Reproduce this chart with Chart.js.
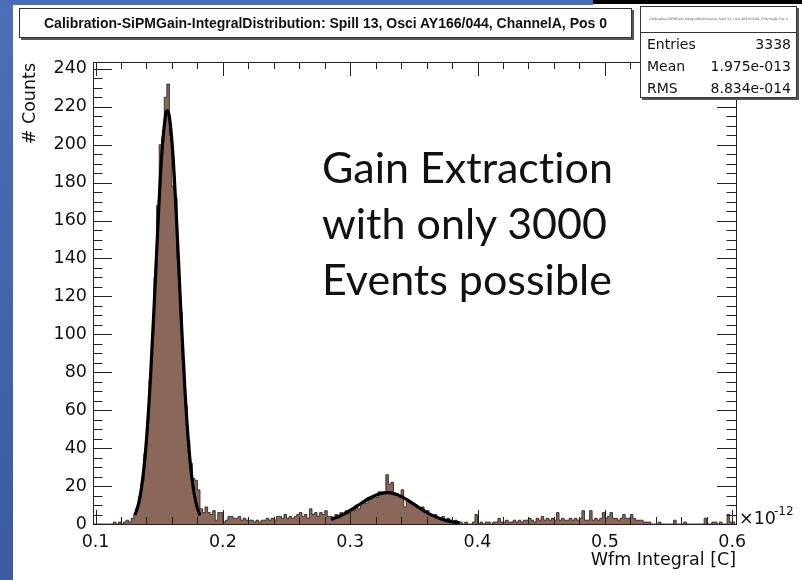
<!DOCTYPE html>
<html>
<head>
<meta charset="utf-8">
<script src="https://cdn.jsdelivr.net/npm/chart.js@4.4.0/dist/chart.umd.min.js"></script>
<style>
  html, body { margin: 0; padding: 0; background: #fff; }
  #wrap { position: relative; width: 802px; height: 580px; overflow: hidden; background: #fff; }
  #side { position: absolute; left: 0; top: 0; width: 13px; height: 580px; background: linear-gradient(#4d6fb8, #3c5a9e); }
  #topBlue { position: absolute; left: 0; top: 0; width: 593px; height: 5px; background: #4b6db6; }
  #topBlack { position: absolute; left: 593px; top: 0; width: 209px; height: 4px; background: #000; }
  #chart { position: absolute; left: 0; top: 0; }
  .box { position: absolute; background: #fff; border: 1px solid #333; box-shadow: 2px 2px 0 #555; box-sizing: border-box; }
  #titleBox { left: 19px; top: 8px; width: 613px; height: 30px; font: bold 14px "Liberation Sans", Arial, sans-serif;
              text-align: center; line-height: 28px; color: #111; white-space: nowrap; }
  #stats { left: 640px; top: 6px; width: 157px; height: 92px; font: 14px "DejaVu Sans", sans-serif; color: #111; }
  #statName { height: 25px; border-bottom: 1px solid #333; font-size: 3.3px; line-height: 25px; text-align: center; color: #555; white-space: nowrap; overflow: hidden; }
  .row { display: flex; justify-content: space-between; padding: 0 5px 0 6px; height: 22px; line-height: 22px; }
  #note { position: absolute; left: 322px; top: 139px; font: 43px Lato, "Open Sans", sans-serif; line-height: 56px; color: #111;
          font-variant-ligatures: none; white-space: nowrap; }
</style>
</head>
<body>
<div id="wrap">
  <canvas id="chart" width="802" height="580"></canvas>
  <div id="side"></div>
  <div id="topBlue"></div>
  <div id="topBlack"></div>
  <div class="box" id="titleBox">Calibration-SiPMGain-IntegralDistribution: Spill 13, Osci AY166/044, ChannelA, Pos 0</div>
  <div class="box" id="stats">
    <div id="statName">Calibration-SiPMGain-IntegralDistribution: Spill 13, Osci AY166/044, ChannelA, Pos 0</div>
    <div class="row"><span>Entries</span><span>3338</span></div>
    <div class="row"><span>Mean</span><span>1.975e-013</span></div>
    <div class="row"><span>RMS</span><span>8.834e-014</span></div>
  </div>
  <div id="note">Gain Extraction<br>with only 3000<br>Events possible</div>
</div>
<script>
// histogram: 252 bins of width 0.002 (x10^-12 C) starting at 0.098
const binLow = 0.098;
const binWidth = 0.002;
const binCounts = [
  0, 0, 0, 0, 0, 0, 0, 0,
  1, 0, 1, 0, 1, 2, 1, 3,
  5, 9, 14, 23, 37, 54, 76, 100,
  130, 168, 200, 204, 225, 232, 205, 178,
  172, 140, 112, 86, 62, 44, 32, 24, 23, 18,
  8, 6, 9, 6, 5, 7, 2, 6, 6, 1,
  2, 4, 4, 3, 3, 4, 2, 3, 2, 2,
  2, 1, 2, 1, 2, 2, 3, 2, 3, 2,
  4, 4, 3, 5, 3, 4, 3, 4, 5, 6,
  4, 5, 3, 8, 5, 6, 4, 6, 5, 7, 4,
  4, 3, 5, 3, 6, 5, 7, 6, 8, 7,
  10, 8, 11, 12, 11, 14, 13, 15, 14, 17,
  16, 17, 26, 21, 22, 15, 16, 14, 18, 9,
  13, 12, 11, 10, 9, 8, 9, 6, 7, 5,
  4, 5, 3, 3, 4, 2, 3, 2, 1, 2, 1, 1,
  0, 1, 0, 0, 1, 5, 0, 1, 0, 1,
  1, 0, 1, 1, 3, 1, 1, 2, 1, 1,
  2, 1, 2, 1, 2, 2, 3, 2, 1, 3,
  2, 4, 2, 3, 2, 3, 2, 6, 2, 3,
  2, 2, 3, 2, 3, 2, 3, 7, 2, 2,
  7, 2, 3, 2, 3, 6, 3, 4, 6, 3,
  3, 2, 3, 5, 3, 3, 5, 3, 2, 2,
  2, 1, 1, 1, 0, 0, 0, 1, 0, 0,
  0, 0, 0, 2, 0, 0, 0, 1, 0, 0,
  0, 0, 0, 0, 0, 3, 0, 0, 1, 1,
  0, 1, 0, 0, 5, 1, 1
];

// gaussian fits
const fit1X = [0.131, 0.134, 0.137, 0.140, 0.143, 0.146, 0.149, 0.152, 0.155, 0.1564, 0.158, 0.161, 0.164, 0.167, 0.170, 0.173, 0.176, 0.179, 0.182];
const fit1Y = [4.8, 11.3, 23.6, 44.5, 75.4, 115, 157.8, 194.5, 215.5, 218, 214.7, 192.4, 155, 112.2, 73.1, 42.8, 22.5, 10.7, 4.5];
const fit2X = [0.285, 0.295, 0.305, 0.315, 0.325, 0.329, 0.335, 0.345, 0.355, 0.365, 0.375, 0.386];
const fit2Y = [2.4, 5.2, 9.3, 13.6, 16.3, 16.5, 15.9, 12.6, 8.2, 4.4, 1.9, 0.6];

const xTickValues = [0.1, 0.2, 0.3, 0.4, 0.5, 0.6];
const xTickLabels = ['0.1', '0.2', '0.3', '0.4', '0.5', '0.6'];
const yTickValues = [0, 20, 40, 60, 80, 100, 120, 140, 160, 180, 200, 220, 240];

const xMin = 0.098, xMax = 0.603, yMax = 243.6;

const histPoints = binCounts.map((c, i) => ({ x: binLow + i * binWidth, y: c }));
histPoints.push({ x: binLow + binCounts.length * binWidth, y: 0 });

const frameTicks = {
    id: 'frameTicks',
    afterDatasetsDraw(chart) {
        const { ctx, chartArea: a, scales: { x, y } } = chart;
        ctx.save();
        ctx.strokeStyle = '#222';
        ctx.lineWidth = 1;
        ctx.beginPath();
        // x ticks (major 0.1, minor 0.02), bottom and top
        for (let i = 0; i <= 25; i++) {
            const v = 0.1 + i * 0.02;
            const px = Math.round(x.getPixelForValue(v)) + 0.5;
            const len = i % 5 === 0 ? 14 : 7;
            ctx.moveTo(px, a.bottom); ctx.lineTo(px, a.bottom - len);
            ctx.moveTo(px, a.top); ctx.lineTo(px, a.top + len);
        }
        // y ticks (major 20, minor 5), left and right
        for (let v = 0; v <= 240; v += 5) {
            const py = Math.round(y.getPixelForValue(v)) + 0.5;
            const len = v % 20 === 0 ? 19 : 9.5;
            ctx.moveTo(a.left, py); ctx.lineTo(a.left + len, py);
            ctx.moveTo(a.right, py); ctx.lineTo(a.right - len, py);
        }
        ctx.stroke();
        ctx.strokeRect(Math.round(a.left) + 0.5, Math.round(a.top) + 0.5, Math.round(a.right - a.left), Math.round(a.bottom - a.top));

        ctx.fillStyle = '#111';
        ctx.font = '17.5px "DejaVu Sans"';
        // y title
        ctx.save();
        ctx.translate(35, a.top + 1);
        ctx.rotate(-Math.PI / 2);
        ctx.textAlign = 'right';
        ctx.textBaseline = 'alphabetic';
        ctx.fillText('# Counts', 0, 0);
        ctx.restore();
        // x title
        ctx.textAlign = 'right';
        ctx.textBaseline = 'alphabetic';
        ctx.fillText('Wfm Integral [C]', a.right, 565);
        // exponent
        ctx.textAlign = 'left';
        ctx.fillText('\u00d710', a.right + 3, a.bottom);
        ctx.font = '12px "DejaVu Sans"';
        ctx.fillText('-12', a.right + 38, a.bottom - 9);
        ctx.restore();
    }
};

new Chart(document.getElementById('chart'), {
    type: 'line',
    data: {
        datasets: [
            {
                label: 'histogram',
                data: histPoints,
                stepped: 'before',
                fill: 'origin',
                backgroundColor: 'rgb(138, 103, 88)',
                borderColor: 'rgba(40, 30, 28, 0.85)',
                borderWidth: 1,
                pointRadius: 0,
                order: 2,
            },
            {
                label: 'fit 1',
                data: fit1X.map((v, i) => ({ x: v, y: fit1Y[i] })),
                borderColor: '#000',
                borderWidth: 3.2,
                cubicInterpolationMode: 'monotone',
                pointRadius: 0,
                fill: false,
                order: 1,
            },
            {
                label: 'fit 2',
                data: fit2X.map((v, i) => ({ x: v, y: fit2Y[i] })),
                borderColor: '#000',
                borderWidth: 3.2,
                cubicInterpolationMode: 'monotone',
                pointRadius: 0,
                fill: false,
                order: 1,
            }
        ]
    },
    options: {
        responsive: false,
        animation: false,
        layout: { padding: { left: 0, top: 62, right: 66, bottom: 0 } },
        plugins: {
            legend: { display: false },
            tooltip: { enabled: false },
        },
        scales: {
            x: {
                type: 'linear',
                min: xMin,
                max: xMax,
                afterBuildTicks: (scale) => { scale.ticks = xTickValues.map(v => ({ value: v })); },
                afterFit: (scale) => { scale.height = 56; },
                grid: { display: false, drawTicks: false },
                border: { display: false },
                ticks: {
                    color: '#111',
                    font: { family: 'DejaVu Sans', size: 17.5 },
                    padding: 8,
                    maxRotation: 0,
                    autoSkip: false,
                    callback: (v, i) => xTickLabels[i],
                }
            },
            y: {
                type: 'linear',
                min: 0,
                max: yMax,
                afterBuildTicks: (scale) => { scale.ticks = yTickValues.map(v => ({ value: v })); },
                afterFit: (scale) => { scale.width = 93; },
                grid: { display: false, drawTicks: false },
                border: { display: false },
                ticks: {
                    color: '#111',
                    font: { family: 'DejaVu Sans', size: 17.5 },
                    padding: 6,
                    autoSkip: false,
                }
            }
        }
    },
    plugins: [frameTicks]
});
</script>
</body>
</html>
